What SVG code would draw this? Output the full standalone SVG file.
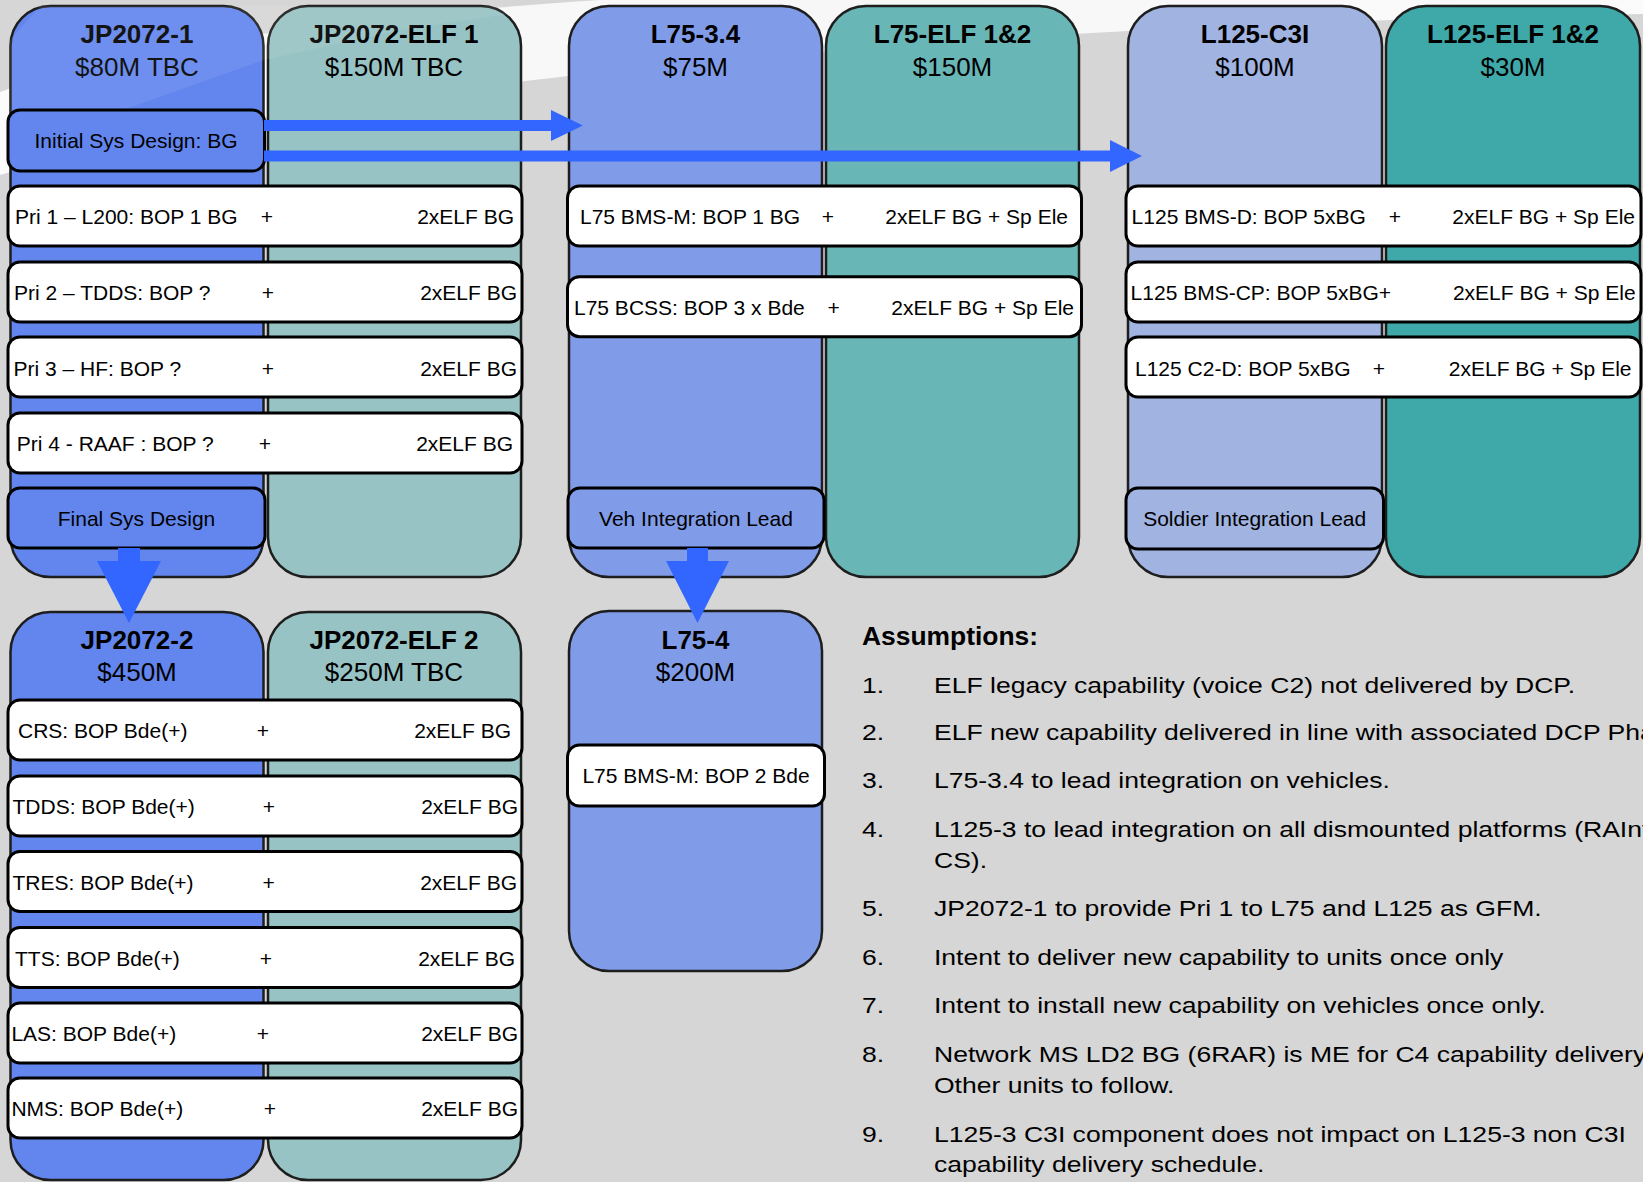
<svg xmlns="http://www.w3.org/2000/svg" width="1643" height="1182" viewBox="0 0 1643 1182">
<style>
text{font-family:"Liberation Sans",Arial,sans-serif;fill:#000}
.h1{font-size:26px;font-weight:bold;text-anchor:middle}
.h2{font-size:26px;text-anchor:middle}
.t{font-size:21px}
.m{text-anchor:middle}
.e{text-anchor:end}
.col{stroke:#1e1e1e;stroke-width:2.5}
.row{fill:#fff;stroke:#000;stroke-width:3}
.blk{stroke:#000;stroke-width:3}
.arrow{fill:#3366FF}
.li{font-size:22.5px}
.c1{fill:#6286EE}.c2{fill:#97C3C4}.c3{fill:#809CE8}.c4{fill:#69B6B7}.c5{fill:#A1B3E0}.c6{fill:#3FA9A9}
</style>
<defs>
<linearGradient id="sw" x1="0" y1="0" x2="1" y2="0">
<stop offset="0" stop-color="#fff" stop-opacity="0.9"/>
<stop offset="0.5" stop-color="#fff" stop-opacity="0.8"/>
<stop offset="1" stop-color="#fff" stop-opacity="0.9"/>
</linearGradient>
</defs>
<rect x="0" y="0" width="1643" height="1182" fill="#D6D6D6"/>
<path d="M0,175 C300,90 900,25 1643,14 L1643,0 L600,0 C300,20 100,55 0,92 Z" fill="url(#sw)"/>

<g id="col-jp2072-1"><rect class="col c1" x="10.5" y="6" width="253" height="571" rx="40"/>
<text class="h1" x="137" y="43">JP2072-1</text><text class="h2" x="137" y="76">$80M TBC</text></g>
<g id="col-jp2072-elf1"><rect class="col c2" x="268" y="6" width="253" height="571" rx="40"/>
<text class="h1" x="394" y="43">JP2072-ELF 1</text><text class="h2" x="394" y="76">$150M TBC</text></g>
<g id="col-l75-34"><rect class="col c3" x="569" y="6" width="253" height="571" rx="40"/>
<text class="h1" x="695.5" y="43">L75-3.4</text><text class="h2" x="695.5" y="76">$75M</text></g>
<g id="col-l75-elf"><rect class="col c4" x="826" y="6" width="253" height="571" rx="40"/>
<text class="h1" x="952.5" y="43">L75-ELF 1&amp;2</text><text class="h2" x="952.5" y="76">$150M</text></g>
<g id="col-l125-c3i"><rect class="col c5" x="1128" y="6" width="254" height="571" rx="40"/>
<text class="h1" x="1255" y="43">L125-C3I</text><text class="h2" x="1255" y="76">$100M</text></g>
<g id="col-l125-elf"><rect class="col c6" x="1386" y="6" width="254" height="571" rx="40"/>
<text class="h1" x="1513" y="43">L125-ELF 1&amp;2</text><text class="h2" x="1513" y="76">$30M</text></g>

<g id="col-jp2072-2"><rect class="col c1" x="10.5" y="612" width="253" height="568" rx="40"/>
<text class="h1" x="137" y="649">JP2072-2</text><text class="h2" x="137" y="681">$450M</text></g>
<g id="col-jp2072-elf2"><rect class="col c2" x="268" y="612" width="253" height="568" rx="40"/>
<text class="h1" x="394" y="649">JP2072-ELF 2</text><text class="h2" x="394" y="681">$250M TBC</text></g>
<g id="col-l75-4"><rect class="col c3" x="569" y="611" width="253" height="360" rx="40"/>
<text class="h1" x="695.5" y="649">L75-4</text><text class="h2" x="695.5" y="681">$200M</text></g>

<path d="M10,150 L264,60 L400,30 L521,12 L521,6 L40,6 L10,40 Z" fill="#fff" opacity="0.08"/>

<g id="initial-sys-design"><rect class="blk c1" x="8" y="110" width="256.5" height="61" rx="12"/>
<text class="t m" x="136" y="148">Initial Sys Design: BG</text></g>
<g id="final-sys-design"><rect class="blk c1" x="8" y="488" width="257" height="60" rx="12"/>
<text class="t m" x="136.5" y="526">Final Sys Design</text></g>
<g id="veh-integration-lead"><rect class="blk c3" x="568" y="488" width="256" height="60" rx="12"/>
<text class="t m" x="696" y="526">Veh Integration Lead</text></g>
<g id="soldier-integration-lead"><rect class="blk c5" x="1126" y="488" width="257.5" height="61" rx="12"/>
<text class="t m" x="1254.7" y="526">Soldier Integration Lead</text></g>

<g id="row-pri1"><rect class="row" x="8" y="186" width="514" height="60" rx="12"/>
<text class="t" x="15" y="224">Pri 1 – L200: BOP 1 BG</text><text class="t m" x="267" y="224">+</text><text class="t e" x="514" y="224">2xELF BG</text></g>
<g id="row-pri2"><rect class="row" x="8" y="262" width="514" height="60" rx="12"/>
<text class="t" x="14" y="300">Pri 2 – TDDS: BOP ?</text><text class="t m" x="268" y="300">+</text><text class="t e" x="517" y="300">2xELF BG</text></g>
<g id="row-pri3"><rect class="row" x="8" y="337" width="514" height="60" rx="12"/>
<text class="t" x="13.6" y="375.5">Pri 3 – HF: BOP ?</text><text class="t m" x="268" y="375.5">+</text><text class="t e" x="517" y="375.5">2xELF BG</text></g>
<g id="row-pri4"><rect class="row" x="8" y="413" width="514" height="60" rx="12"/>
<text class="t" x="16.8" y="451">Pri 4 - RAAF : BOP ?</text><text class="t m" x="265" y="451">+</text><text class="t e" x="513" y="451">2xELF BG</text></g>

<g id="row-l75-bmsm"><rect class="row" x="567.5" y="186" width="514" height="60" rx="12"/>
<text class="t" x="580" y="224">L75 BMS-M: BOP 1 BG</text><text class="t m" x="828" y="224">+</text><text class="t e" x="1068" y="224">2xELF BG + Sp Ele</text></g>
<g id="row-l75-bcss"><rect class="row" x="567.5" y="276.7" width="514" height="60" rx="12"/>
<text class="t" x="574" y="314.7">L75 BCSS: BOP 3 x Bde</text><text class="t m" x="833.6" y="314.7">+</text><text class="t e" x="1074" y="314.7">2xELF BG + Sp Ele</text></g>

<g id="row-l125-bmsd"><rect class="row" x="1126" y="186" width="515" height="60" rx="12"/>
<text class="t" x="1131.6" y="224">L125 BMS-D: BOP 5xBG</text><text class="t m" x="1395" y="224">+</text><text class="t e" x="1635" y="224">2xELF BG + Sp Ele</text></g>
<g id="row-l125-bmscp"><rect class="row" x="1126" y="262" width="515" height="60" rx="12"/>
<text class="t" x="1130.6" y="300">L125 BMS-CP: BOP 5xBG+</text><text class="t e" x="1635.6" y="300">2xELF BG + Sp Ele</text></g>
<g id="row-l125-c2d"><rect class="row" x="1126" y="337" width="515" height="60" rx="12"/>
<text class="t" x="1135" y="375.5">L125 C2-D: BOP 5xBG</text><text class="t m" x="1379" y="375.5">+</text><text class="t e" x="1631.5" y="375.5">2xELF BG + Sp Ele</text></g>

<g id="row-crs"><rect class="row" x="8" y="700" width="514" height="60" rx="12"/>
<text class="t" x="18" y="738">CRS: BOP Bde(+)</text><text class="t m" x="263" y="738">+</text><text class="t e" x="511" y="738">2xELF BG</text></g>
<g id="row-tdds"><rect class="row" x="8" y="776" width="514" height="60" rx="12"/>
<text class="t" x="12.5" y="814">TDDS: BOP Bde(+)</text><text class="t m" x="269" y="814">+</text><text class="t e" x="518" y="814">2xELF BG</text></g>
<g id="row-tres"><rect class="row" x="8" y="851.5" width="514" height="60" rx="12"/>
<text class="t" x="12.5" y="889.5">TRES: BOP Bde(+)</text><text class="t m" x="268.6" y="889.5">+</text><text class="t e" x="517" y="889.5">2xELF BG</text></g>
<g id="row-tts"><rect class="row" x="8" y="927.5" width="514" height="60" rx="12"/>
<text class="t" x="15" y="965.5">TTS: BOP Bde(+)</text><text class="t m" x="266" y="965.5">+</text><text class="t e" x="515" y="965.5">2xELF BG</text></g>
<g id="row-las"><rect class="row" x="8" y="1003" width="514" height="60" rx="12"/>
<text class="t" x="11.4" y="1041">LAS: BOP Bde(+)</text><text class="t m" x="263" y="1041">+</text><text class="t e" x="518" y="1041">2xELF BG</text></g>
<g id="row-nms"><rect class="row" x="8" y="1078" width="514" height="60" rx="12"/>
<text class="t" x="11.4" y="1116">NMS: BOP Bde(+)</text><text class="t m" x="270" y="1116">+</text><text class="t e" x="518" y="1116">2xELF BG</text></g>

<g id="row-l75-4-bmsm"><rect class="row" x="567.5" y="745" width="257" height="61" rx="12"/>
<text class="t m" x="696" y="783">L75 BMS-M: BOP 2 Bde</text></g>

<g id="connectors">
<polygon class="arrow" points="264,120 551,120 551,110 583,125.5 551,141 551,131 264,131"/>
<polygon class="arrow" points="264,150.5 1110,150.5 1110,140 1142,156 1110,172 1110,161.5 264,161.5"/>
<polygon class="arrow" points="118,548 140,548 140,561 161,561 129,623 97,561 118,561"/>
<polygon class="arrow" points="687,548 708,548 708,561 729,561 697.5,623 666,561 687,561"/>
</g>

<g id="assumptions">
<text x="862" y="645" font-size="25" font-weight="bold" textLength="176" lengthAdjust="spacingAndGlyphs">Assumptions:</text>
<g transform="translate(862 0) scale(1.18 1)" class="li">
<text x="0" y="692.7">1.</text><text x="61" y="692.7">ELF legacy capability (voice C2) not delivered by DCP.</text>
<text x="0" y="740">2.</text><text x="61" y="740">ELF new capability delivered in line with associated DCP Phase.</text>
<text x="0" y="788.3">3.</text><text x="61" y="788.3">L75-3.4 to lead integration on vehicles.</text>
<text x="0" y="836.7">4.</text><text x="61" y="836.7">L125-3 to lead integration on all dismounted platforms (RAInf,</text>
<text x="61" y="868.3">CS).</text>
<text x="0" y="916">5.</text><text x="61" y="916">JP2072-1 to provide Pri 1 to L75 and L125 as GFM.</text>
<text x="0" y="965">6.</text><text x="61" y="965">Intent to deliver new capability to units once only</text>
<text x="0" y="1012.7">7.</text><text x="61" y="1012.7">Intent to install new capability on vehicles once only.</text>
<text x="0" y="1061.7">8.</text><text x="61" y="1061.7">Network MS LD2 BG (6RAR) is ME for C4 capability delivery.</text>
<text x="61" y="1093">Other units to follow.</text>
<text x="0" y="1141.7">9.</text><text x="61" y="1141.7">L125-3 C3I component does not impact on L125-3 non C3I</text>
<text x="61" y="1171.7">capability delivery schedule.</text>
</g>
</g>
</svg>
